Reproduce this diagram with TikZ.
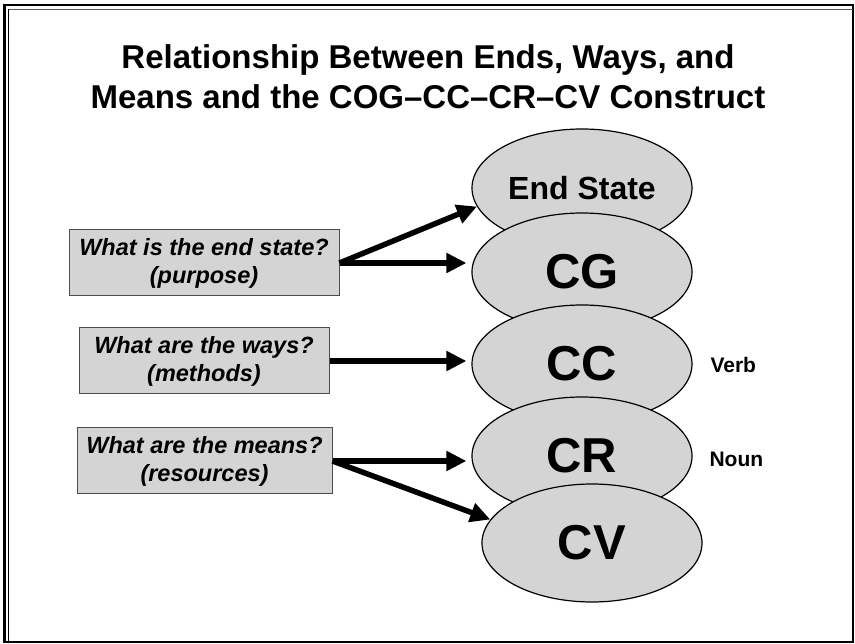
\documentclass[tikz,border=0pt]{standalone}
\usepackage{fontspec}
\setmainfont{Liberation Sans}
\usepackage{xcolor}
\usepackage{tikz}
\usetikzlibrary{arrows.meta,calc,positioning,shapes.geometric}
\definecolor{ovalgray}{RGB}{212,212,212}

\begin{document}
\begin{tikzpicture}[x=1pt,y=-1pt,
  qbox/.style={draw=black!70,fill=ovalgray,line width=1pt,minimum height=66pt,inner sep=0pt,align=center,font=\fontsize{23.5}{28}\selectfont\bfseries\itshape},
  oval/.style={ellipse,draw,fill=ovalgray,line width=1.2pt,minimum width=220pt,minimum height=118pt,inner sep=0pt,font=\fontsize{49}{50}\selectfont\bfseries},
  side/.style={anchor=west,font=\fontsize{21}{24}\selectfont\bfseries},
  ar/.style={-{Triangle[length=20pt,width=19pt]},line width=5.5pt}]
\useasboundingbox (0,0) rectangle (855,644);
% frame
\draw[line width=2.5pt] (4.5,5) rectangle (853,642);
\draw[line width=1.8pt] (8.5,642) -- (8.5,9.5);
\draw[line width=1.8pt,black!65] (8.5,9.5) -- (853,9.5);
\node[align=center,font=\fontsize{33}{40}\selectfont\bfseries] (title) at (428,77) {Relationship Between Ends, Ways, and\\Means and the COG–CC–CR–CV Construct};
% stack of ovals
\node[oval,font=\fontsize{32}{36}\selectfont\bfseries] (es) at (582,188) {End State};
\node[oval] (cg) at (582,272) {CG};
\node[oval] (cc) at (582,364) {CC};
\node[oval] (cr) at (582,456) {CR};
\node[oval] (cv) at (592,543) {CV};
\node[side] (verb) at (707,365) {Verb};
\node[side] (noun) at (706,459) {Noun};
% questions
\node[qbox,minimum width=270pt] (q1) at (204,263) {What is the end state?\\(purpose)};
\node[qbox,minimum width=250pt] (q2) at (204,361) {What are the ways?\\(methods)};
\node[qbox,minimum width=255pt] (q3) at (204.5,461) {What are the means?\\(resources)};
\draw[ar] (q1.east) -- (es.190);
\draw[ar] (q1.east) -- ([xshift=-5pt]q1.east -| cg.west);
\draw[ar] (q2.east) -- ([xshift=-5pt]q2.east -| cc.west);
\draw[ar] (q3.east) -- ([xshift=-5pt]q3.east -| cr.west);
\draw[ar] (q3.east) -- (cv.167);
\end{tikzpicture}
\end{document}
